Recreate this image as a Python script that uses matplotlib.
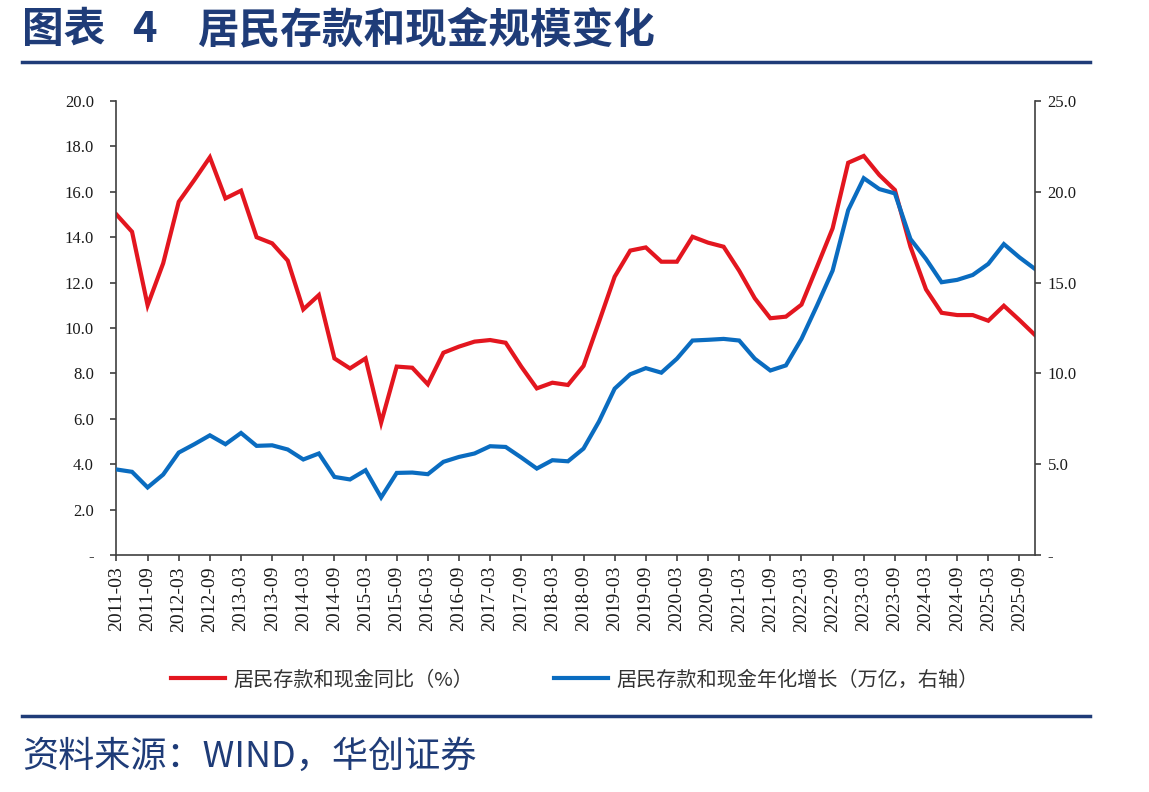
import matplotlib
matplotlib.use('Agg')
import matplotlib.pyplot as plt
from matplotlib.lines import Line2D

plt.rcParams['font.family'] = ['Noto Sans CJK SC', 'DejaVu Sans']

# quarterly data, 2011-03 .. 2025-12
quarters = [f'{y}-{m:02d}' for y in range(2011, 2026) for m in (3, 6, 9, 12)]

# 居民存款和现金同比 (%)
deposit_yoy = [15.0, 14.24, 11.0, 12.85, 15.56, 16.52, 17.52, 15.71, 16.05, 14.0,
               13.73, 12.97, 10.82, 11.45, 8.66, 8.22, 8.66, 5.83, 8.3, 8.25,
               7.52, 8.91, 9.18, 9.4, 9.47, 9.35, 8.30, 7.34, 7.59, 7.49,
               8.33, 10.28, 12.26, 13.41, 13.55, 12.92, 12.92, 14.02, 13.76, 13.58,
               12.52, 11.31, 10.43, 10.50, 11.03, 12.7, 14.39, 17.28, 17.58, 16.74,
               16.08, 13.58, 11.7, 10.67, 10.57, 10.57, 10.32, 10.98, 10.35, 9.69]

# 居民存款和现金年化增长 (万亿, 右轴)
deposit_incr = [4.71, 4.58, 3.72, 4.43, 5.64, 6.10, 6.59, 6.10, 6.72, 6.01,
                6.04, 5.81, 5.26, 5.59, 4.30, 4.16, 4.67, 3.17, 4.52, 4.54,
                4.45, 5.13, 5.40, 5.59, 5.99, 5.95, 5.37, 4.76, 5.22, 5.16,
                5.86, 7.36, 9.16, 9.95, 10.29, 10.04, 10.81, 11.81, 11.85, 11.90,
                11.81, 10.81, 10.16, 10.44, 11.9, 13.74, 15.66, 18.99, 20.75, 20.15,
                19.91, 17.4, 16.30, 15.02, 15.15, 15.42, 16.03, 17.12, 16.39, 15.75]

left_ticks = [0, 2, 4, 6, 8, 10, 12, 14, 16, 18, 20]
right_ticks = [0, 5, 10, 15, 20, 25]

RED = '#E3161F'
BLUE = '#0A6CC0'
NAVY = '#1F3C78'
SERIF = ['Liberation Serif', 'DejaVu Serif']

fig = plt.figure(figsize=(11.49, 7.92), dpi=100)
ax = fig.add_axes([116 / 1149, 1 - 555 / 792, (1035 - 116) / 1149, (555 - 101) / 792])
ax2 = ax.twinx()

x = list(range(len(quarters)))
ax.plot(x, deposit_yoy, color=RED, lw=3.0, solid_joinstyle='miter')
ax2.plot(x, deposit_incr, color=BLUE, lw=3.0, solid_joinstyle='miter')

ax.set_xlim(-0.03, len(quarters) - 1)
ax.set_ylim(0, 20)
ax2.set_ylim(0, 25)

ax.set_yticks(left_ticks)
ax.set_yticklabels(['-' if v == 0 else f'{v:.1f}' for v in left_ticks], family=SERIF, fontsize=12)
ax2.set_yticks(right_ticks)
ax2.set_yticklabels(['-' if v == 0 else f'{v:.1f}' for v in right_ticks], family=SERIF, fontsize=12)

ax.set_xticks(x[::2])
ax.set_xticklabels(quarters[::2], rotation=90, family=SERIF, fontsize=14)

for a in (ax, ax2):
    a.spines['top'].set_visible(False)
    for s in ('left', 'right', 'bottom'):
        a.spines[s].set_color('#404040')
        a.spines[s].set_linewidth(1.2)
    a.tick_params(direction='out', length=4, width=1.2, color='#404040', labelcolor='#1a1a1a')
ax.spines['right'].set_visible(False)
ax2.spines['left'].set_visible(False)
ax2.spines['bottom'].set_visible(False)
ax.tick_params(axis='y', pad=12)
ax.tick_params(axis='x', pad=4)
ax2.tick_params(axis='y', pad=5)

# title and rules
fig.text(22 / 1149, 1 - 30 / 792, '图表', fontsize=30, fontweight='bold', color=NAVY, va='center')
fig.text(132 / 1149, 1 - 30 / 792, '4', fontsize=30, fontweight='bold', color=NAVY, va='center')
fig.text(197 / 1149, 1 - 30 / 792, '居民存款和现金规模变化', fontsize=30, fontweight='bold', color=NAVY, va='center')
fig.add_artist(Line2D([22 / 1149, 1090 / 1149], [1 - 62 / 792] * 2, color=NAVY, lw=2.5))
fig.add_artist(Line2D([22 / 1149, 1090 / 1149], [1 - 716 / 792] * 2, color=NAVY, lw=2.5))

# legend
handles = [Line2D([], [], color=RED, lw=3.0), Line2D([], [], color=BLUE, lw=3.0)]
fig.legend(handles, ['居民存款和现金同比（%）', '居民存款和现金年化增长（万亿，右轴）'],
           loc='center', bbox_to_anchor=(0.5, 1 - 680 / 792), ncol=2, frameon=False,
           fontsize=14.5, handlelength=2.7, handletextpad=0.4, columnspacing=4.0,
           labelcolor='#333333')

fig.text(22 / 1149, 1 - 757 / 792, '资料来源：WIND，华创证券', fontsize=26, color=NAVY, va='center')

fig.savefig('out.png', dpi=100)
